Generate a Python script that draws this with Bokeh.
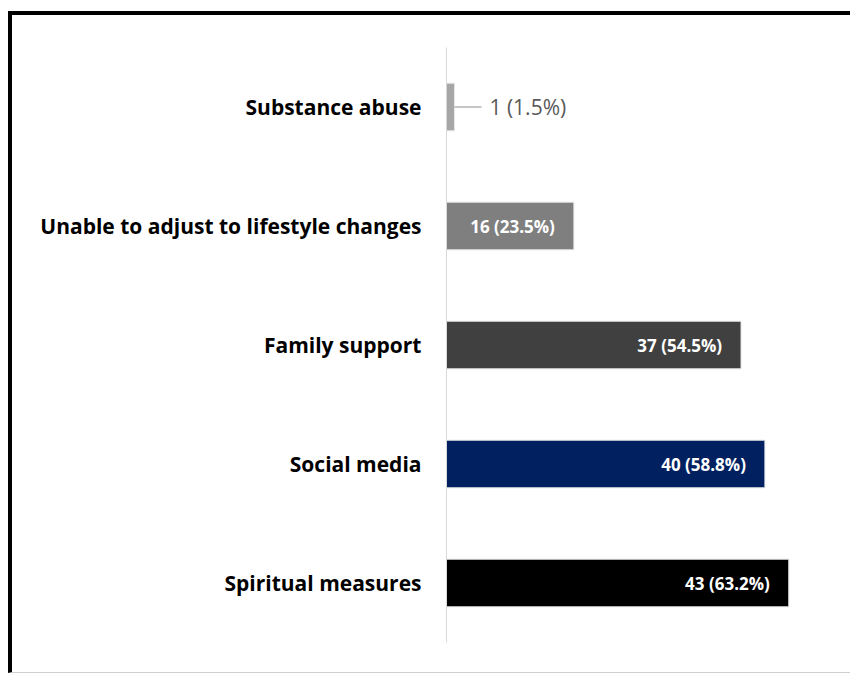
from bokeh.plotting import figure
from bokeh.models import ColumnDataSource, FactorRange, Range1d
from bokeh.core.properties import value
from bokeh.embed import file_html
from bokeh.resources import INLINE

categories = ["Substance abuse", "Unable to adjust to lifestyle changes",
              "Family support", "Social media", "Spiritual measures"]
counts = [1, 16, 37, 40, 43]
percents = [1.5, 23.5, 54.5, 58.8, 63.2]
colors = ["#a6a6a6", "#7f7f7f", "#404040", "#002060", "#000000"]

labels = [f"{c} ({p}%)" for c, p in zip(counts, percents)]
inside = [c >= 10 for c in counts]

src = ColumnDataSource(dict(cat=categories, count=counts, color=colors, label=labels))
src_in = ColumnDataSource(dict(
    cat=[c for c, i in zip(categories, inside) if i],
    count=[v for v, i in zip(counts, inside) if i],
    label=[l for l, i in zip(labels, inside) if i]))
src_out = ColumnDataSource(dict(
    cat=[c for c, i in zip(categories, inside) if not i],
    count=[v for v, i in zip(counts, inside) if not i],
    label=[l for l, i in zip(labels, inside) if not i]))

p = figure(y_range=FactorRange(factors=categories[::-1], range_padding=0),
           x_range=Range1d(0, 50), width=842, height=662,
           output_backend="svg", toolbar_location=None,
           x_axis_location=None,
           min_border_left=434, min_border_right=10,
           min_border_top=32, min_border_bottom=35,
           styles={"margin-left": "8px", "margin-top": "11px",
                   "border-top": "4px solid #000", "border-left": "4px solid #000",
                   "border-bottom": "1px solid #d0d0d0"})

p.hbar(y="cat", right="count", left=0, height=0.4, color="color",
       line_color="#e6e6e6", line_width=1, source=src)

p.text(x="count", y="cat", text="label", source=src_in, x_offset=-19,
       text_align="right", text_baseline="middle", text_color="white",
       text_font=value("Open Sans"), text_font_style="bold", text_font_size="17px")

p.ray(x="count", y="cat", length=27, length_units="screen", angle=0,
      line_color="#8c8c8c", line_width=1, source=src_out)
p.text(x="count", y="cat", text="label", source=src_out, x_offset=35,
       text_align="left", text_baseline="middle", text_color="#595959",
       text_font=value("Open Sans"), text_font_size="21px")

p.xgrid.visible = False
p.ygrid.visible = False
p.outline_line_color = None
p.yaxis.axis_line_color = "#d9d9d9"
p.yaxis.major_tick_line_color = None
p.yaxis.minor_tick_line_color = None
p.yaxis.major_label_standoff = 19
p.yaxis.major_label_text_font = "Open Sans"
p.yaxis.major_label_text_font_style = "bold"
p.yaxis.major_label_text_font_size = "21px"
p.yaxis.major_label_text_color = "#000000"

open("out.html", "w").write(file_html(p, INLINE))
